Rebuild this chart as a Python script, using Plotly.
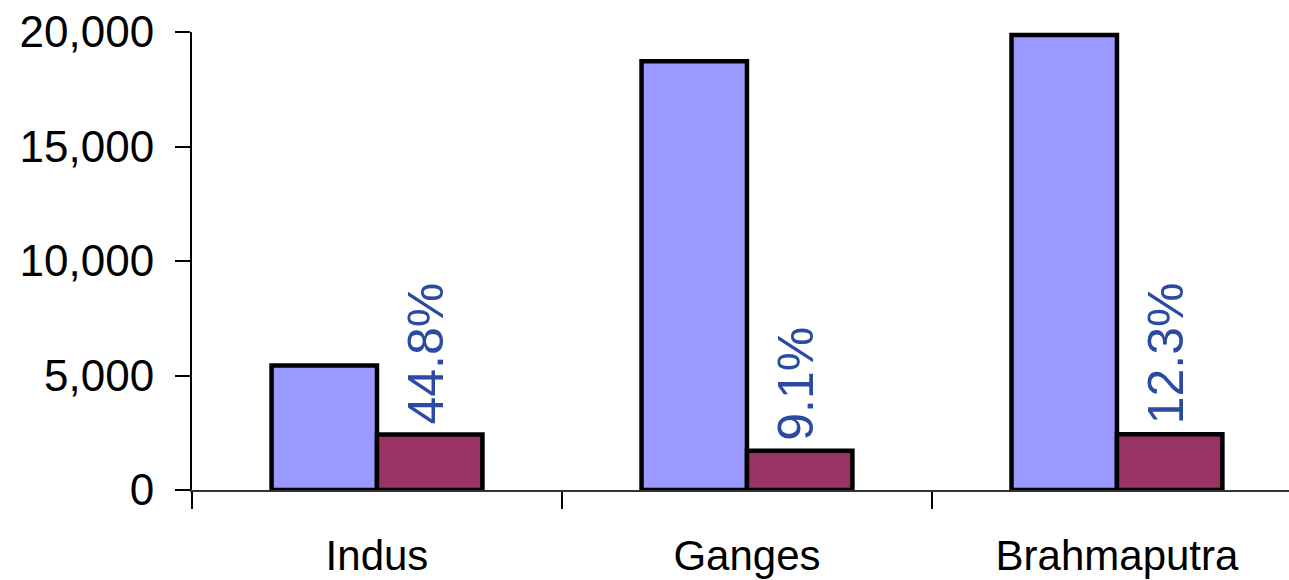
import plotly.graph_objects as go

# River basins and their two measured quantities
rivers = ["Indus", "Ganges", "Brahmaputra"]
total_values = [5440, 18720, 19870]
part_values = [2420, 1710, 2430]
share_labels = ["44.8%", "9.1%", "12.3%"]

y_ticks = [0, 5000, 10000, 15000, 20000]

FONT = "Liberation Sans, Arial, sans-serif"

fig = go.Figure()
fig.add_trace(go.Bar(
    x=rivers, y=total_values,
    marker=dict(color="#9999FF", line=dict(color="black", width=4.5)),
    showlegend=False, hoverinfo="x+y",
))
fig.add_trace(go.Bar(
    x=rivers, y=part_values,
    marker=dict(color="#993366", line=dict(color="black", width=4.5)),
    showlegend=False, hoverinfo="x+y",
))

# Rotated share labels sitting above the second bar of each group
for river, value, label in zip(rivers, part_values, share_labels):
    fig.add_annotation(
        x=river, y=value, xref="x", yref="y",
        text=label, textangle=-90, showarrow=False,
        xanchor="center", yanchor="bottom",
        xshift=49, yshift=8,
        font=dict(family=FONT, size=50, color="#2b4aa3"),
    )

fig.update_layout(
    width=1289, height=580,
    margin=dict(l=192, r=0, t=32, b=90),
    paper_bgcolor="white", plot_bgcolor="white",
    barmode="group", bargap=0.43, bargroupgap=0,
    font=dict(family=FONT, color="black"),
)
fig.update_xaxes(
    type="category", range=[-0.5, 2.465],
    showline=True, linecolor="#333333", linewidth=2,
    ticks="outside", tickson="boundaries", ticklen=17,
    tickcolor="black", tickwidth=2,
    tickfont=dict(size=42, family=FONT, color="black"),
    ticklabelstandoff=28,
    showgrid=False, zeroline=False,
)
fig.update_yaxes(
    range=[0, 20000], tickvals=y_ticks, tickformat=",d",
    showline=True, linecolor="black", linewidth=2,
    ticks="outside", ticklen=15, tickcolor="black", tickwidth=2,
    tickfont=dict(size=44, family=FONT, color="black"),
    ticklabelstandoff=12,
    showgrid=False, zeroline=False,
)

fig.write_html("out.html")
